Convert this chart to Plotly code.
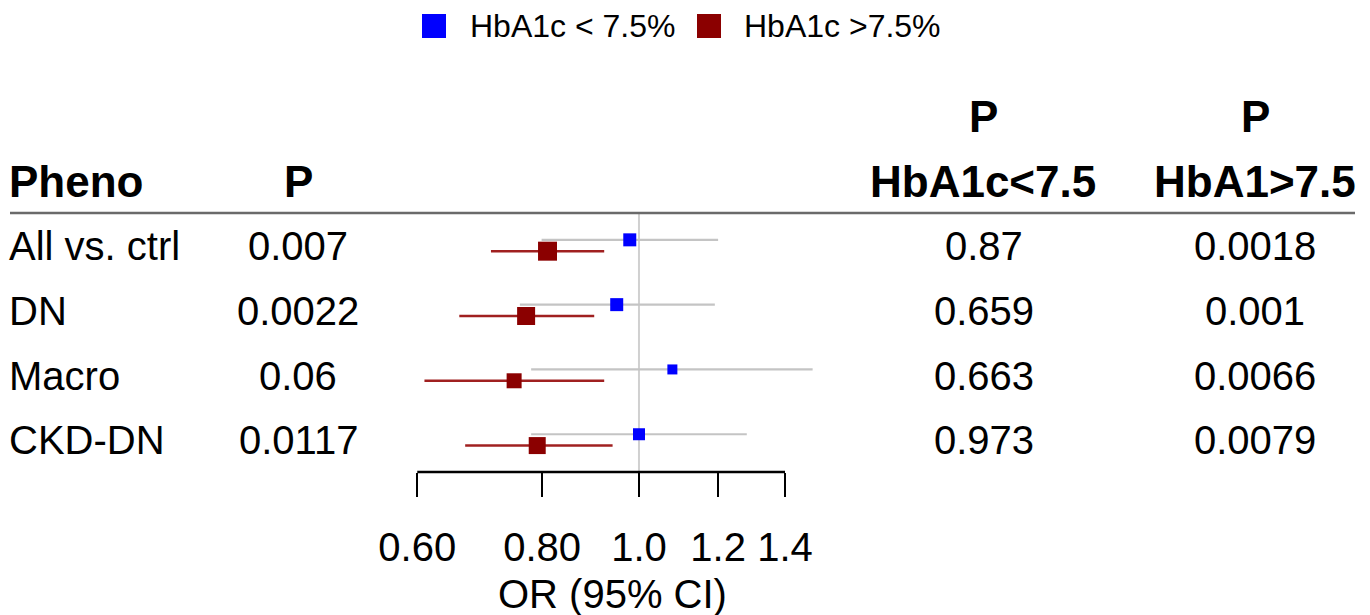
import plotly.graph_objects as go

# ---------------- data ----------------
pheno = ["All vs. ctrl", "DN", "Macro", "CKD-DN"]
p_all = ["0.007", "0.0022", "0.06", "0.0117"]
p_low = ["0.87", "0.659", "0.663", "0.973"]
p_high = ["0.0018", "0.001", "0.0066", "0.0079"]

or_low = [0.979, 0.950, 1.080, 1.000]
lo_low = [0.799, 0.760, 0.780, 0.780]
hi_low = [1.200, 1.191, 1.492, 1.282]

or_high = [0.810, 0.771, 0.750, 0.791]
lo_high = [0.711, 0.661, 0.610, 0.670]
hi_high = [0.923, 0.902, 0.923, 0.941]

tick_vals = [0.6, 0.8, 1.0, 1.2, 1.4]
tick_text = ["0.60", "0.80", "1.0", "1.2", "1.4"]

legend_names = ["HbA1c < 7.5%", "HbA1c >7.5%"]
headers = ["Pheno", "P", "P", "HbA1c&lt;7.5", "P", "HbA1&gt;7.5"]

# ---------------- styles ----------------
W, H = 1370, 615
PB = 472            # pixel y of plot bottom (axis line)
ROW0, ROWH = 246, 64.8
FONT = "Liberation Sans, Arial, sans-serif"
size_low = [13, 13, 10, 12]
size_high = [19, 18, 15, 17]
BLUE, DRED = "#0000FF", "#8B0000"


def pxx(p):
    return p / W


def pyy(p):
    return (PB - p) / PB


rows = list(range(len(pheno)))
y_low = [r - 0.095 for r in rows]
y_high = [r + 0.08 for r in rows]

fig = go.Figure()
fig.add_trace(go.Scatter(
    x=or_low, y=y_low, mode="markers", name=legend_names[0], showlegend=False,
    marker=dict(symbol="square", size=size_low, color=BLUE, opacity=1, line=dict(width=0)),
    error_x=dict(type="data", symmetric=False,
                 array=[h - o for h, o in zip(hi_low, or_low)],
                 arrayminus=[o - l for o, l in zip(or_low, lo_low)],
                 color="#c4c4c4", thickness=2.2, width=0),
))
fig.add_trace(go.Scatter(
    x=or_high, y=y_high, mode="markers", name=legend_names[1], showlegend=False,
    marker=dict(symbol="square", size=size_high, color=DRED, opacity=1, line=dict(width=0)),
    error_x=dict(type="data", symmetric=False,
                 array=[h - o for h, o in zip(hi_high, or_high)],
                 arrayminus=[o - l for o, l in zip(or_high, lo_high)],
                 color="#a02020", thickness=2.5, width=0),
))

ann = []
txt = dict(family=FONT, size=40, color="black")
bold = dict(family=FONT, size=44, color="black")
for i, r in enumerate(rows):
    ann.append(dict(x=pxx(7), y=r, xref="paper", yref="y", text=pheno[i],
                    xanchor="left", yanchor="middle", showarrow=False, font=txt))
    ann.append(dict(x=pxx(298), y=r, xref="paper", yref="y", text=p_all[i],
                    xanchor="center", yanchor="middle", showarrow=False, font=txt))
    ann.append(dict(x=pxx(984), y=r, xref="paper", yref="y", text=p_low[i],
                    xanchor="center", yanchor="middle", showarrow=False, font=txt))
    ann.append(dict(x=pxx(1255), y=r, xref="paper", yref="y", text=p_high[i],
                    xanchor="center", yanchor="middle", showarrow=False, font=txt))

hdr_pos = [(7, 181, "left"), (298, 181, "center"), (983, 116, "center"),
           (983, 181, "center"), (1255, 116, "center"), (1255, 181, "center")]
for h, (hx, hy, anc) in zip(headers, hdr_pos):
    ann.append(dict(x=pxx(hx), y=pyy(hy), xref="paper", yref="paper",
                    text="<b>" + h + "</b>", xanchor=anc, yanchor="middle",
                    showarrow=False, font=bold))

# axis title
ann.append(dict(x=pxx(612), y=pyy(594), xref="paper", yref="paper",
                text="OR (95% CI)", xanchor="center", yanchor="middle",
                showarrow=False, font=txt))

# legend (manual)
leg = dict(family=FONT, size=32, color="black")
ann.append(dict(x=pxx(468), y=pyy(26), xref="paper", yref="paper", text=legend_names[0],
                xanchor="left", yanchor="middle", showarrow=False, font=leg))
ann.append(dict(x=pxx(742), y=pyy(26), xref="paper", yref="paper", text=legend_names[1],
                xanchor="left", yanchor="middle", showarrow=False, font=leg))

shapes = [
    # legend boxes
    dict(type="rect", xref="paper", yref="paper", x0=pxx(422), x1=pxx(446),
         y0=pyy(38), y1=pyy(14), fillcolor=BLUE, line=dict(width=0)),
    dict(type="rect", xref="paper", yref="paper", x0=pxx(697), x1=pxx(721),
         y0=pyy(38), y1=pyy(14), fillcolor=DRED, line=dict(width=0)),
    # header rule
    dict(type="line", xref="paper", yref="paper", x0=pxx(10), x1=pxx(1355),
         y0=pyy(213), y1=pyy(213), line=dict(color="#6a6a6a", width=2.5)),
    # reference line at OR = 1
    dict(type="line", xref="x", yref="paper", x0=1, x1=1, y0=0, y1=pyy(214),
         line=dict(color="#d0d0d0", width=2), layer="below"),
    # axis line over tick range
    dict(type="line", xref="x", yref="paper", x0=min(tick_vals), x1=max(tick_vals),
         y0=0, y1=0, line=dict(color="black", width=2.5)),
]

fig.update_layout(
    width=W, height=H,
    margin=dict(l=0, r=0, t=0, b=H - PB, pad=0),
    paper_bgcolor="white", plot_bgcolor="white",
    showlegend=False,
    annotations=ann, shapes=shapes,
    font=dict(family=FONT),
    xaxis=dict(type="log", range=[-0.6394, 0.7315], showgrid=False, zeroline=False,
               showline=False, ticks="outside", ticklen=24, tickwidth=2,
               tickcolor="black", tickvals=tick_vals, ticktext=tick_text,
               tickfont=dict(family=FONT, size=40, color="black"),
               ticklabelstandoff=16, automargin=False, fixedrange=True),
    yaxis=dict(range=[(PB - ROW0) / ROWH, -ROW0 / ROWH], showgrid=False,
               zeroline=False, showline=False, showticklabels=False, ticks="",
               automargin=False, fixedrange=True),
)

fig.write_html("out.html", config=dict(displayModeBar=False),
               post_script="document.body.style.margin='0';document.body.style.overflow='hidden';")
